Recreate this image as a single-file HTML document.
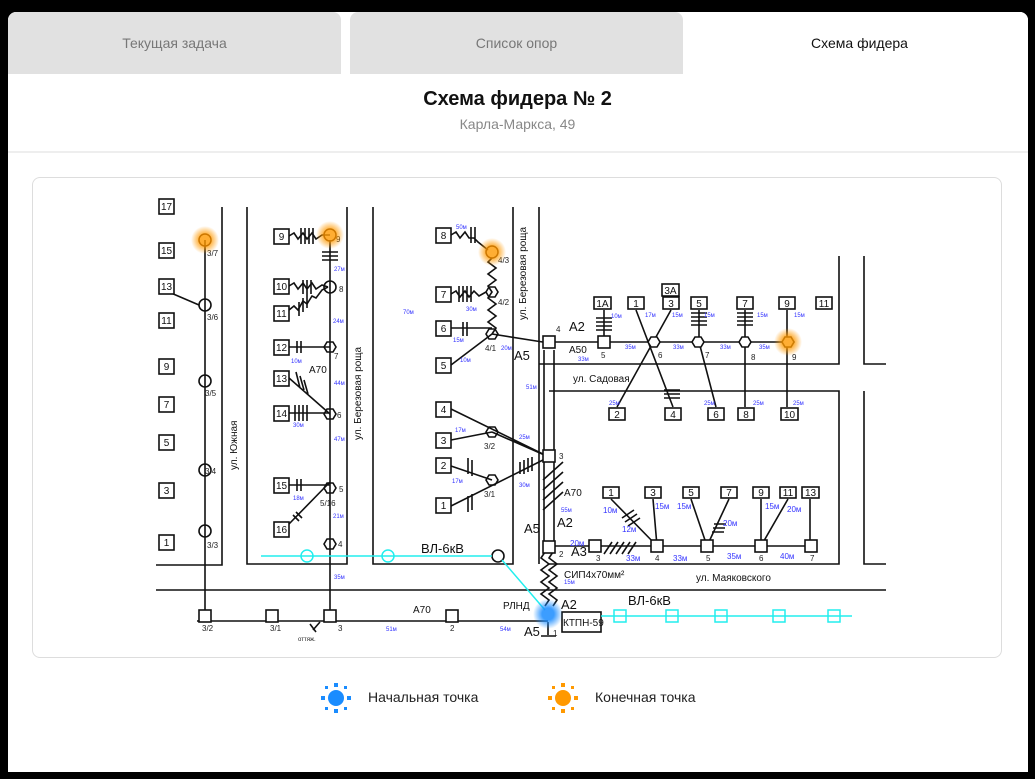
<!DOCTYPE html>
<html><head><meta charset="utf-8"><style>
*{margin:0;padding:0;box-sizing:border-box}
body{width:1035px;height:779px;background:#000;position:relative;overflow:hidden;font-family:"Liberation Sans",sans-serif}
.page{position:absolute;left:8px;top:12px;width:1020px;height:760px;background:#fff;border-radius:8px 8px 0 0}
.tab{position:absolute;top:12px;height:62px;background:#e1e1e1;border-radius:8px 8px 0 0;text-align:center;line-height:62px;font-size:14px;color:#777}
.title{position:absolute;top:88px;left:0;width:1035px;text-align:center;font-size:20px;font-weight:bold;color:#111}
.sub{position:absolute;top:116px;left:0;width:1035px;text-align:center;font-size:14px;color:#888}
.hr{position:absolute;top:151px;left:8px;width:1020px;height:2px;background:#eee}
.card{position:absolute;left:32px;top:177px;width:970px;height:481px;border:1px solid #ddd;border-radius:8px}
svg{position:absolute;left:0;top:0}
.leg{position:absolute;top:689px;font-size:14px;color:#222}
</style></head><body>
<div class="page"></div>
<div class="tab" style="left:8px;width:333px">Текущая задача</div>
<div class="tab" style="left:350px;width:333px">Список опор</div>
<div class="tab" style="left:691px;width:337px;background:#fff;color:#111">Схема фидера</div>
<div class="title">Схема фидера № 2</div>
<div class="sub">Карла-Маркса, 49</div>
<div class="hr"></div>
<div class="card"></div>
<div class="leg" style="left:368px">Начальная точка</div>
<div class="leg" style="left:595px">Конечная точка</div>
<svg width="1035" height="779" viewBox="0 0 1035 779" font-family="Liberation Sans, sans-serif">
<defs>
<radialGradient id="og"><stop offset="0.4" stop-color="#f90" stop-opacity="0.8"/><stop offset="1" stop-color="#f90" stop-opacity="0"/></radialGradient>
<radialGradient id="bg"><stop offset="0.4" stop-color="#1a8cff" stop-opacity="0.85"/><stop offset="1" stop-color="#1a8cff" stop-opacity="0"/></radialGradient>
</defs>
<g stroke="#111" stroke-width="1.6" fill="none">
<!-- blocks -->
<path d="M222 207V565H156M247 207V564H347V207M373 207V564H513V207M539 207V564M539 364H839V256M864 256V364H886M549 391H839V564H549M864 391V564H886M156 590H886"/>
<!-- left column -->
<path d="M205 240V621M171 293L199 305"/>
<circle cx="205" cy="305" r="6"/><circle cx="205" cy="381" r="6"/><circle cx="205" cy="470" r="6"/><circle cx="205" cy="531" r="6"/>
<!-- column 2 -->
<path d="M330 240V621M289 347H330M297 341V353M301 341V353M289 485H330M297 479V491M301 479V491M289 524L330 482M293 515L299 521M296 512L302 518"/>
<path d="M289 236L294 233 298 239 303 233 307 239 312 233 316 239 322 235 330 235M289 286L294 283 298 289 303 283 307 289 312 283 316 289 322 285 328 287M289 310L294 306 298 310 303 301 307 304 312 296 316 298 322 290 328 287"/>
<path d="M301 228V244M305 228V244M309 228V244M313 228V244M322 252H338M322 256H338M322 260H338M303 280V294M307 280V294M311 280V294M299 302V316M303 298V312M307 294V308M289 378L330 414M289 413H330M295 405V421M299 405V421M303 405V421M307 405V421M296 372L300 388M300 376L304 390M304 380L308 394"/>
<circle cx="330" cy="287" r="6"/>
<path d="M324 347l3-5h6l3 5-3 5h-6zM324 414l3-5h6l3 5-3 5h-6zM324 488l3-5h6l3 5-3 5h-6zM324 544l3-5h6l3 5-3 5h-6z"/>
<path d="M313 630L320 622M310 624L316 632"/>
<!-- column 3 -->
<path d="M451 235L456 232 460 238 465 232 469 238 474 238 478 242 483 246 488 250M451 294L456 291 460 297 465 291 469 297 474 291 479 296 486 292M471 227V243M475 227V243M459 286V302M463 286V302M467 286V302M471 286V302M451 328H492M463 322V336M467 322V336M451 365L492 334M451 409L549 457M451 440L492 432M451 466L492 480M451 506L549 457M468 458V474M472 460V476M468 496V512M472 494V510M492 334L549 343M492 432L549 457"/>
<path d="M520 462V474M524 460V474M528 458V472M532 457V471"/>
<path d="M492 258L488 262 496 268 488 274 496 280 488 286 492 292 488 298 496 304 488 310 496 316 488 322 496 328 492 334"/>
<path d="M486 292l3-5h6l3 5-3 5h-6zM486 334l3-5h6l3 5-3 5h-6zM486 432l3-5h6l3 5-3 5h-6zM486 480l3-5h6l3 5-3 5h-6z"/>
<!-- bus double -->
<path d="M544 350V542M554 350V542"/>
<path d="M543 480L563 462M543 490L563 472M543 500L563 482M543 510L563 492"/>
<path d="M545 552L541 558 549 564 541 570 549 576 541 582 549 588 541 594 549 600 545 606M553 552L549 558 557 564 549 570 557 576 549 582 557 588 549 594 557 600 553 606"/>
<path d="M548 622V635M541 636H556"/>
<rect x="543" y="336" width="12" height="12" fill="#fff"/><rect x="543" y="450" width="12" height="12" fill="#fff"/><rect x="543" y="541" width="12" height="12" fill="#fff"/>
<!-- bottom bus -->
<path d="M197 621H548"/>
<rect x="199" y="610" width="12" height="12" fill="#fff"/><rect x="266" y="610" width="12" height="12" fill="#fff"/><rect x="324" y="610" width="12" height="12" fill="#fff"/><rect x="446" y="610" width="12" height="12" fill="#fff"/>
<rect x="562" y="612" width="39" height="20" fill="#fff"/>
<!-- A50 row -->
<path d="M555 342H788M604 310V342M636 310L673 407M671 310L617 407M699 310V342L716 407M745 310V407M787 310V407"/>
<path d="M596 318H612M596 322H612M596 326H612M596 330H612M691 313H707M691 317H707M691 321H707M691 325H707M737 313H753M737 317H753M737 321H753M737 325H753M664 390H680M664 394H680M664 398H680"/>
<rect x="598" y="336" width="12" height="12" fill="#fff"/>
<path d="M648 342l3-5h6l3 5-3 5h-6zM692 342l3-5h6l3 5-3 5h-6zM739 342l3-5h6l3 5-3 5h-6zM782 342l3-5h6l3 5-3 5h-6z" fill="#fff"/>
<!-- A3 row -->
<path d="M555 546H811M611 499L657 546M653 499L657 546M691 499L707 546M729 499L707 546M761 499V546M788 499L761 546M810 499V546"/>
<path d="M604 554L612 542M610 554L618 542M616 554L624 542M622 554L630 542M628 554L636 542M622 518L634 510M625 522L637 514M628 526L640 518M714 524L726 524M713 528L725 528M712 532L724 532"/>
<rect x="589" y="540" width="12" height="12" fill="#fff"/><rect x="651" y="540" width="12" height="12" fill="#fff"/><rect x="701" y="540" width="12" height="12" fill="#fff"/><rect x="755" y="540" width="12" height="12" fill="#fff"/><rect x="805" y="540" width="12" height="12" fill="#fff"/>
<circle cx="498" cy="556" r="6"/>
</g>
<!-- cyan -->
<g stroke="#2ee" stroke-width="1.5" fill="none">
<path d="M261 556H492M502 560L545 610M601 616H852"/>
<circle cx="307" cy="556" r="6"/><circle cx="388" cy="556" r="6"/>
<rect x="614" y="610" width="12" height="12"/><rect x="666" y="610" width="12" height="12"/><rect x="715" y="610" width="12" height="12"/><rect x="773" y="610" width="12" height="12"/><rect x="828" y="610" width="12" height="12"/>
</g>
<!-- number boxes -->
<g stroke="#111" stroke-width="1.6" fill="#fff">
<rect x="159" y="199" width="15" height="15"/><rect x="159" y="243" width="15" height="15"/><rect x="159" y="279" width="15" height="15"/><rect x="159" y="313" width="15" height="15"/><rect x="159" y="359" width="15" height="15"/><rect x="159" y="397" width="15" height="15"/><rect x="159" y="435" width="15" height="15"/><rect x="159" y="483" width="15" height="15"/><rect x="159" y="535" width="15" height="15"/>
<rect x="274" y="229" width="15" height="15"/><rect x="274" y="279" width="15" height="15"/><rect x="274" y="306" width="15" height="15"/><rect x="274" y="340" width="15" height="15"/><rect x="274" y="371" width="15" height="15"/><rect x="274" y="406" width="15" height="15"/><rect x="274" y="478" width="15" height="15"/><rect x="274" y="522" width="15" height="15"/>
<rect x="436" y="228" width="15" height="15"/><rect x="436" y="287" width="15" height="15"/><rect x="436" y="321" width="15" height="15"/><rect x="436" y="358" width="15" height="15"/><rect x="436" y="402" width="15" height="15"/><rect x="436" y="433" width="15" height="15"/><rect x="436" y="458" width="15" height="15"/><rect x="436" y="498" width="15" height="15"/>
<rect x="594" y="297" width="17" height="12"/><rect x="628" y="297" width="16" height="12"/><rect x="663" y="297" width="16" height="12"/><rect x="691" y="297" width="16" height="12"/><rect x="737" y="297" width="16" height="12"/><rect x="779" y="297" width="16" height="12"/><rect x="816" y="297" width="16" height="12"/><rect x="662" y="284" width="17" height="12"/>
<rect x="609" y="408" width="16" height="12"/><rect x="665" y="408" width="16" height="12"/><rect x="708" y="408" width="16" height="12"/><rect x="738" y="408" width="16" height="12"/><rect x="781" y="408" width="17" height="12"/>
<rect x="603" y="487" width="16" height="11"/><rect x="645" y="487" width="16" height="11"/><rect x="683" y="487" width="16" height="11"/><rect x="721" y="487" width="16" height="11"/><rect x="753" y="487" width="16" height="11"/><rect x="780" y="487" width="16" height="11"/><rect x="802" y="487" width="17" height="11"/>
</g>
<g font-size="10" fill="#111" text-anchor="middle">
<text x="166.5" y="210">17</text><text x="166.5" y="254">15</text><text x="166.5" y="290">13</text><text x="166.5" y="324">11</text><text x="166.5" y="370">9</text><text x="166.5" y="408">7</text><text x="166.5" y="446">5</text><text x="166.5" y="494">3</text><text x="166.5" y="546">1</text>
<text x="281.5" y="240">9</text><text x="281.5" y="290">10</text><text x="281.5" y="317">11</text><text x="281.5" y="351">12</text><text x="281.5" y="382">13</text><text x="281.5" y="417">14</text><text x="281.5" y="489">15</text><text x="281.5" y="533">16</text>
<text x="443.5" y="239">8</text><text x="443.5" y="298">7</text><text x="443.5" y="332">6</text><text x="443.5" y="369">5</text><text x="443.5" y="413">4</text><text x="443.5" y="444">3</text><text x="443.5" y="469">2</text><text x="443.5" y="509">1</text>
<text x="602.5" y="307">1A</text><text x="636" y="307">1</text><text x="671" y="307">3</text><text x="699" y="307">5</text><text x="745" y="307">7</text><text x="787" y="307">9</text><text x="824" y="307">11</text><text x="670.5" y="294">3A</text>
<text x="617" y="418">2</text><text x="673" y="418">4</text><text x="716" y="418">6</text><text x="746" y="418">8</text><text x="789.5" y="418">10</text>
<text x="611" y="496">1</text><text x="653" y="496">3</text><text x="691" y="496">5</text><text x="729" y="496">7</text><text x="761" y="496">9</text><text x="788" y="496">11</text><text x="810.5" y="496">13</text>
</g>
<g font-size="8" fill="#222">
<text x="207" y="256">3/7</text><text x="207" y="320">3/6</text><text x="205" y="396">3/5</text><text x="205" y="474">3/4</text><text x="207" y="548">3/3</text>
<text x="336" y="242">9</text><text x="339" y="292">8</text><text x="334" y="359">7</text><text x="337" y="418">6</text><text x="339" y="492">5</text><text x="320" y="506">5/16</text><text x="338" y="547">4</text>
<text x="498" y="263">4/3</text><text x="498" y="305">4/2</text><text x="485" y="351">4/1</text><text x="484" y="449">3/2</text><text x="484" y="497">3/1</text>
<text x="556" y="332">4</text><text x="559" y="459">3</text><text x="559" y="557">2</text><text x="553" y="636">1</text>
<text x="601" y="358">5</text><text x="658" y="358">6</text><text x="705" y="358">7</text><text x="751" y="360">8</text><text x="792" y="360">9</text>
<text x="596" y="561">3</text><text x="655" y="561">4</text><text x="706" y="561">5</text><text x="759" y="561">6</text><text x="810" y="561">7</text>
<text x="202" y="631">3/2</text><text x="270" y="631">3/1</text><text x="338" y="631">3</text><text x="450" y="631">2</text>
<text x="298" y="641" font-size="6">оттяж.</text>
</g>
<g font-size="10" fill="#111">
<text x="309" y="373">A70</text><text x="413" y="613">A70</text><text x="564" y="496">A70</text>
<text x="569" y="331" font-size="13">A2</text><text x="514" y="360" font-size="13">A5</text><text x="569" y="353">A50</text>
<text x="573" y="382">ул. Садовая</text><text x="524" y="533" font-size="13">A5</text><text x="557" y="527" font-size="13">A2</text>
<text x="571" y="556" font-size="13">A3</text><text x="564" y="578">СИП4х70мм²</text><text x="696" y="581">ул. Маяковского</text>
<text x="561" y="609" font-size="13">A2</text><text x="524" y="636" font-size="13">A5</text><text x="503" y="609">РЛНД</text><text x="563" y="626">КТПН-59</text>
<text x="421" y="553" font-size="13">ВЛ-6кВ</text><text x="628" y="605" font-size="13">ВЛ-6кВ</text>
<text transform="translate(237,470) rotate(-90)">ул. Южная</text>
<text transform="translate(361,440) rotate(-90)">ул. Березовая роща</text>
<text transform="translate(526,320) rotate(-90)">ул. Березовая роща</text>
</g>
<g font-size="6" fill="#33f">
<text x="334" y="271">27м</text><text x="333" y="323">24м</text><text x="334" y="385">44м</text><text x="334" y="441">47м</text><text x="333" y="518">21м</text><text x="334" y="579">35м</text>
<text x="291" y="363">10м</text><text x="293" y="427">30м</text><text x="293" y="500">18м</text><text x="403" y="314">70м</text>
<text x="456" y="229">50м</text><text x="466" y="311">30м</text><text x="453" y="342">15м</text><text x="460" y="362">10м</text><text x="501" y="350">20м</text>
<text x="455" y="432">17м</text><text x="452" y="483">17м</text><text x="519" y="439">25м</text><text x="519" y="487">30м</text><text x="526" y="389">51м</text>
<text x="386" y="631">51м</text><text x="500" y="631">54м</text><text x="578" y="361">33м</text><text x="561" y="512">55м</text><text x="564" y="584">15м</text>
<text x="611" y="318">10м</text><text x="645" y="317">17м</text><text x="672" y="317">15м</text><text x="704" y="317">15м</text><text x="757" y="317">15м</text><text x="794" y="317">15м</text>
<text x="625" y="349">35м</text><text x="673" y="349">33м</text><text x="720" y="349">33м</text><text x="759" y="349">35м</text>
<text x="609" y="405">25м</text><text x="704" y="405">25м</text><text x="753" y="405">25м</text><text x="793" y="405">25м</text>
<g font-size="8"><text x="603" y="513">10м</text><text x="655" y="509">15м</text><text x="677" y="509">15м</text><text x="723" y="526">20м</text><text x="765" y="509">15м</text><text x="787" y="512">20м</text><text x="622" y="532">12м</text>
<text x="570" y="546">20м</text><text x="626" y="561">33м</text><text x="673" y="561">33м</text><text x="727" y="559">35м</text><text x="780" y="559">40м</text></g>
</g>
<!-- orange points -->
<g>
<circle cx="205" cy="240" r="14" fill="url(#og)"/><circle cx="205" cy="240" r="6" fill="none" stroke="#c70" stroke-width="1.5"/>
<circle cx="330" cy="235" r="14" fill="url(#og)"/><circle cx="330" cy="235" r="6" fill="none" stroke="#c70" stroke-width="1.5"/>
<circle cx="492" cy="252" r="14" fill="url(#og)"/><circle cx="492" cy="252" r="6" fill="none" stroke="#c70" stroke-width="1.5"/>
<circle cx="788" cy="342" r="14" fill="url(#og)"/>
<circle cx="548" cy="614" r="15" fill="url(#bg)"/>
</g>
<!-- legend icons -->
<g fill="#1a8cff"><circle cx="336" cy="698" r="8"/><rect x="334" y="683" width="4" height="4"/><rect x="334" y="709" width="4" height="4"/><rect x="321" y="696" width="4" height="4"/><rect x="347" y="696" width="4" height="4"/><rect x="325" y="686" width="3" height="3"/><rect x="344" y="686" width="3" height="3"/><rect x="325" y="707" width="3" height="3"/><rect x="344" y="707" width="3" height="3"/></g>
<g fill="#f90"><circle cx="563" cy="698" r="8"/><rect x="561" y="683" width="4" height="4"/><rect x="561" y="709" width="4" height="4"/><rect x="548" y="696" width="4" height="4"/><rect x="574" y="696" width="4" height="4"/><rect x="552" y="686" width="3" height="3"/><rect x="571" y="686" width="3" height="3"/><rect x="552" y="707" width="3" height="3"/><rect x="571" y="707" width="3" height="3"/></g>
</svg>
</body></html>
